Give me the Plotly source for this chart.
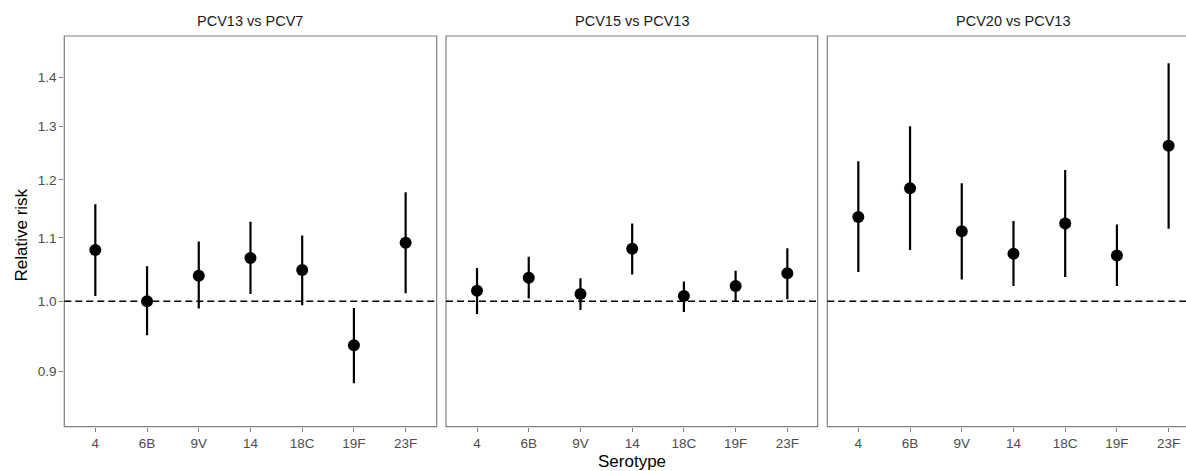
import plotly.graph_objects as go

serotypes = ["4", "6B", "9V", "14", "18C", "19F", "23F"]
comparisons = ["PCV13 vs PCV7", "PCV15 vs PCV13", "PCV20 vs PCV13"]

rr_pcv13_pcv7 = [1.080, 1.000, 1.039, 1.067, 1.048, 0.936, 1.092]
lo_pcv13_pcv7 = [1.008, 0.950, 0.989, 1.011, 0.994, 0.884, 1.012]
hi_pcv13_pcv7 = [1.157, 1.054, 1.094, 1.127, 1.104, 0.990, 1.178]

rr_pcv15_pcv13 = [1.016, 1.036, 1.011, 1.082, 1.008, 1.023, 1.043]
lo_pcv15_pcv13 = [0.981, 1.004, 0.987, 1.041, 0.984, 1.000, 1.003]
hi_pcv15_pcv13 = [1.051, 1.069, 1.035, 1.124, 1.030, 1.047, 1.083]

rr_pcv20_pcv13 = [1.135, 1.185, 1.111, 1.074, 1.124, 1.071, 1.263]
lo_pcv20_pcv13 = [1.045, 1.080, 1.033, 1.023, 1.037, 1.023, 1.115]
hi_pcv20_pcv13 = [1.234, 1.301, 1.194, 1.128, 1.218, 1.122, 1.430]

y_ticks = [0.9, 1.0, 1.1, 1.2, 1.3, 1.4]

series = [
    (rr_pcv13_pcv7, lo_pcv13_pcv7, hi_pcv13_pcv7),
    (rr_pcv15_pcv13, lo_pcv15_pcv13, hi_pcv15_pcv13),
    (rr_pcv20_pcv13, lo_pcv20_pcv13, hi_pcv20_pcv13),
]

W, H = 1186, 471
FONT = "Liberation Sans, Arial, sans-serif"
GRAY = "#7f7f7f"
TICKGRAY = "#4d4d4d"

# panel pixel positions
panels_px = [(64.3, 436.7), (446.0, 817.7), (827.3, 1186.0)]
top_px, bot_px = 36.0, 426.7
ydom = [1 - bot_px / H, 1 - top_px / H]
step = (405.3 - 95.0) / 6.0  # px per category

fig = go.Figure()
for i, (rr, lo, hi) in enumerate(series):
    ax = "" if i == 0 else str(i + 1)
    fig.add_trace(go.Scatter(
        x=serotypes, y=rr,
        mode="markers",
        marker=dict(color="black", size=12),
        error_y=dict(type="data", symmetric=False,
                     array=[h - r for h, r in zip(hi, rr)],
                     arrayminus=[r - l for r, l in zip(rr, lo)],
                     color="black", thickness=2.2, width=0),
        xaxis="x" + ax, yaxis="y" + ax, showlegend=False,
        hoverinfo="x+y",
    ))

layout = dict(
    width=W, height=H,
    margin=dict(l=0, r=0, t=0, b=0),
    paper_bgcolor="white", plot_bgcolor="white",
    font=dict(family=FONT, color=TICKGRAY, size=13),
    shapes=[], annotations=[],
)

for i, (x0, x1) in enumerate(panels_px):
    ax = "" if i == 0 else str(i + 1)
    full_right = x0 + 0.6 * step + 6 * step + 0.6 * step
    rmax = 6.6 - (full_right - x1) / step
    layout["xaxis" + ax] = dict(
        domain=[x0 / W, x1 / W], anchor="y" + ax,
        type="category", categoryorder="array", categoryarray=serotypes,
        range=[-0.6, rmax],
        showgrid=False, zeroline=False, showline=False,
        ticks="outside", ticklen=4, tickwidth=1, tickcolor=GRAY,
        tickfont=dict(family=FONT, size=13.5, color=TICKGRAY),
        fixedrange=True,
    )
    layout["yaxis" + ax] = dict(
        domain=ydom, anchor="x" + ax, type="log",
        range=[-0.0819, 0.1731],
        tickvals=y_ticks, ticktext=[f"{v:.1f}" for v in y_ticks],
        showticklabels=(i == 0),
        ticks="outside" if i == 0 else "", ticklen=4, tickwidth=1, tickcolor=GRAY,
        tickfont=dict(family=FONT, size=13.5, color=TICKGRAY),
        showgrid=False, zeroline=False, showline=False,
        fixedrange=True,
    )
    # panel border
    xr = "x" + ax + " domain"
    yr = "y" + ax + " domain"
    extra = 1.0 if i < 2 else (full_right - x0) / (x1 - x0)
    layout["shapes"].append(dict(type="rect", xref=xr, yref=yr, x0=0, x1=extra, y0=0, y1=1,
                                 line=dict(color=GRAY, width=1.2), fillcolor="rgba(0,0,0,0)",
                                 layer="below"))
    # reference line at 1
    layout["shapes"].append(dict(type="line", xref=xr, yref="y" + ax, x0=0, x1=1, y0=1, y1=1,
                                 line=dict(color="black", width=1.5, dash="7px,4px"),
                                 layer="below"))
    # strip title
    layout["annotations"].append(dict(
        text=comparisons[i], xref="paper", yref="paper",
        x=(x0 + (full_right if i == 2 else x1)) / 2 / W, y=1 - 21.5 / H,
        showarrow=False, xanchor="center", yanchor="middle",
        font=dict(family=FONT, size=14.5, color="#1a1a1a"),
    ))

layout["annotations"].append(dict(
    text="Serotype", xref="paper", yref="paper", x=631.8 / W, y=1 - 461 / H,
    showarrow=False, xanchor="center", yanchor="middle",
    font=dict(family=FONT, size=17, color="black"),
))
layout["annotations"].append(dict(
    text="Relative risk", xref="paper", yref="paper", x=20.5 / W, y=1 - 235 / H,
    showarrow=False, xanchor="center", yanchor="middle", textangle=-90,
    font=dict(family=FONT, size=17, color="black"),
))

fig.update_layout(**layout)
fig.write_html("out.html",
               config={"displayModeBar": False},
               post_script="document.body.style.margin='0';document.body.style.overflow='hidden';")
